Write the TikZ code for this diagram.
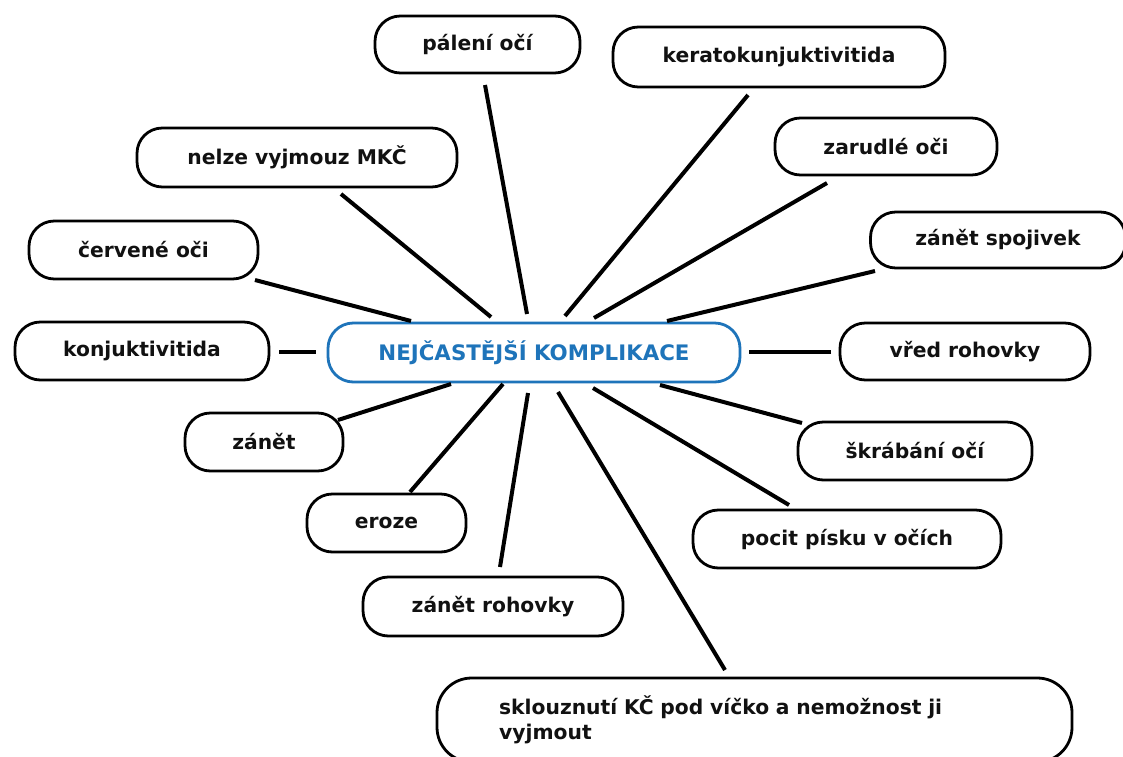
\documentclass[tikz,border=0pt]{standalone}
\usepackage{fontspec}
\setmainfont{DejaVu Sans}
\definecolor{hubblue}{RGB}{30,116,186}
\definecolor{inkblack}{RGB}{17,17,17}
\begin{document}
\begin{tikzpicture}[x=0.75pt,y=-0.75pt,
  box/.style={draw=black, line width=2.1pt, rounded corners=19pt, fill=white,
    font=\bfseries\fontsize{15.2}{18.75}\selectfont, text=inkblack, inner sep=0pt},
  hub/.style={draw=hubblue, line width=2.1pt, rounded corners=19pt, fill=white,
    font=\bfseries\fontsize{16}{19}\selectfont, text=hubblue, inner sep=0pt},
  link/.style={line width=3pt, draw=black, line cap=butt}
]
\useasboundingbox (0,0) rectangle (1123,756);
\clip (0,0) rectangle (1123,756);
\fill[white] (0,0) rectangle (1123,756);

% nodes
\node[hub, minimum width=309pt, minimum height=44.25pt] (hubn) at (534,352.5) {NEJČASTĚJŠÍ KOMPLIKACE};
\node[box, minimum width=153.75pt, minimum height=42.75pt] (palen) at (477.5,44.5) {pálení očí};
\node[box, minimum width=249pt, minimum height=45pt] (kerato) at (779,57) {keratokunjuktivitida};
\node[box, minimum width=240pt, minimum height=44.25pt] (nelze) at (297,157.5) {nelze vyjmouz MKČ};
\node[box, minimum width=166.5pt, minimum height=42.75pt] (zarudle) at (886,146.5) {zarudlé oči};
\node[box, minimum width=171.75pt, minimum height=43.5pt] (cervene) at (143.5,250) {červené oči};
\node[box, minimum width=191.25pt, minimum height=42pt] (spojivek) at (998,240) {zánět spojivek};
\node[box, minimum width=190.5pt, minimum height=43.5pt] (konj) at (142,351) {konjuktivitida};
\node[box, minimum width=187.5pt, minimum height=42.75pt] (vred) at (965,351.5) {vřed rohovky};
\node[box, minimum width=118.5pt, minimum height=43.5pt] (zanet) at (264,442) {zánět};
\node[box, minimum width=175.5pt, minimum height=43.5pt] (skrab) at (915,451) {škrábání očí};
\node[box, minimum width=119.25pt, minimum height=43.5pt] (eroze) at (386.5,523) {eroze};
\node[box, minimum width=231pt, minimum height=43.5pt] (pocit) at (847,539) {pocit písku v očích};
\node[box, minimum width=195pt, minimum height=44.25pt] (zrohov) at (493,606.5) {zánět rohovky};
\node[box, rounded corners=26pt, minimum width=476.25pt, minimum height=63pt,
  text width=383pt, align=left] (sklouz) at (754.5,720)
  {sklouznutí KČ pod víčko a nemožnost ji\\vyjmout};

% connector end points
\coordinate (palenA) at (485,85);   \coordinate (palenB) at (527,314);
\coordinate (keratoA) at (748,95);  \coordinate (keratoB) at (565,316);
\coordinate (nelzeA) at (341,194);  \coordinate (nelzeB) at (491,317);
\coordinate (zarudleA) at (827,183);\coordinate (zarudleB) at (594,318);
\coordinate (cerveneA) at (255,280);\coordinate (cerveneB) at (411,321);
\coordinate (spojA) at (875,271);   \coordinate (spojB) at (667,321);
\coordinate (konjA) at (279,352);   \coordinate (konjB) at (316,352);
\coordinate (vredA) at (831,352);   \coordinate (vredB) at (749,352);
\coordinate (zanetA) at (338,420);  \coordinate (zanetB) at (451,384);
\coordinate (erozeA) at (410,492);  \coordinate (erozeB) at (503,384);
\coordinate (zrohovA) at (500,567); \coordinate (zrohovB) at (528,393);
\coordinate (sklouzA) at (725,670); \coordinate (sklouzB) at (558,392);
\coordinate (pocitA) at (789,505);  \coordinate (pocitB) at (593,388);
\coordinate (skrabA) at (802,423);  \coordinate (skrabB) at (660,385);

% connectors
\foreach \n in {palen,kerato,nelze,zarudle,cervene,spoj,konj,vred,zanet,eroze,zrohov,sklouz,pocit,skrab}
  \draw[link] (\n A) -- (\n B);
\end{tikzpicture}
\end{document}
